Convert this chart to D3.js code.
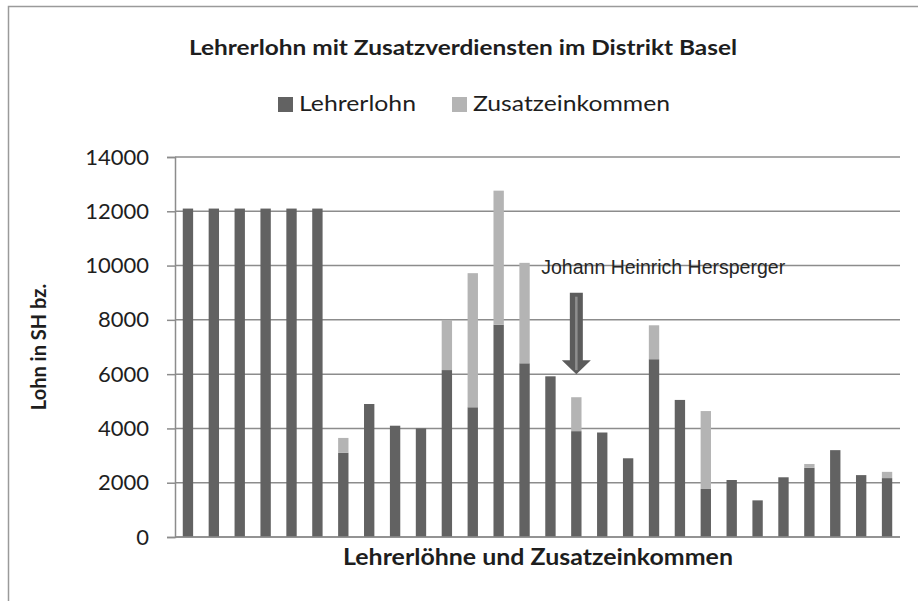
<!DOCTYPE html>
<html>
<head>
<meta charset="utf-8">
<script src="https://cdn.jsdelivr.net/npm/d3@7"></script>
<style>
   body { margin: 0; background: #fff; }
   svg { display: block; }
   text { fill: #1e1e1e; }
</style>
</head>
<body>
<div id="chart"></div>
<script>
// Values
const teachers = d3.range(1, 29).map(i => "L" + i);
const lehrerlohn = [12100, 12100, 12100, 12100, 12100, 12100, 3100, 4900, 4100, 4000,
   6150, 4780, 7820, 6400, 5920, 3900, 3850, 2900, 6550, 5050,
   1770, 2100, 1350, 2200, 2550, 3200, 2280, 2170];
const zusatz = [0, 0, 0, 0, 0, 0, 550, 0, 0, 0,
   1850, 4940, 4940, 3700, 0, 1250, 0, 0, 1250, 0,
   2870, 0, 0, 0, 140, 0, 0, 230];
const seriesNames = ["Lehrerlohn", "Zusatzeinkommen"];
const yTicks = [0, 2000, 4000, 6000, 8000, 10000, 12000, 14000];
const highlight = { teacher: "L16", name: "Johann Heinrich Hersperger", from: 9000, to: 6000, label: 9700 };

const width = 918, height = 601;
const margin = { top: 157, right: 18, bottom: 64, left: 175 };
const colors = { Lehrerlohn: "#626262", Zusatzeinkommen: "#b4b4b4" };
const font = "Lato, 'Open Sans', sans-serif";

const svg = d3.select("#chart").append("svg")
   .attr("width", width)
   .attr("height", height);

// Outer frame (chart area border)
svg.append("path")
   .attr("d", "M8.5," + height + "V6.5H" + width)
   .attr("fill", "none")
   .attr("stroke", "#9a9a9a")
   .attr("stroke-width", 1.5);

const innerW = width - margin.left - margin.right;
const innerH = height - margin.top - margin.bottom;

const x = d3.scaleBand().domain(teachers).range([0, innerW])
   .paddingInner(0.6).paddingOuter(0.3);
const y = d3.scaleLinear().domain([0, 14000]).range([innerH, 0]);

const g = svg.append("g")
   .attr("transform", "translate(" + margin.left + "," + margin.top + ")");

function fit(sel, w) {
   const len = sel.node().getComputedTextLength();
   if (Math.abs(len - w) > 2) sel.attr("textLength", w).attr("lengthAdjust", "spacingAndGlyphs");
   return sel;
}

// Gridlines + left axis
const yAxis = g.append("g")
   .call(d3.axisLeft(y).tickValues(yTicks).tickSize(8).tickPadding(18).tickFormat(d3.format("d")));
yAxis.select(".domain").attr("stroke", "#8c8c8c").attr("stroke-width", 1.5);
yAxis.selectAll(".tick line").attr("stroke", "#8c8c8c").attr("stroke-width", 1.5);
yAxis.selectAll(".tick text")
   .attr("font-family", font)
   .attr("font-size", 22)
   .attr("fill", "#1e1e1e");

g.append("g")
   .selectAll("line")
   .data(yTicks)
   .join("line")
   .attr("x1", 0)
   .attr("x2", innerW)
   .attr("y1", d => y(d))
   .attr("y2", d => y(d))
   .attr("stroke", "#8c8c8c")
   .attr("stroke-width", 1.5);

// Stacked bars
const rows = teachers.map((t, i) => ({ teacher: t, Lehrerlohn: lehrerlohn[i], Zusatzeinkommen: zusatz[i] }));
const stacked = d3.stack().keys(seriesNames)(rows);

g.append("g")
   .selectAll("g")
   .data(stacked)
   .join("g")
   .attr("fill", d => colors[d.key])
   .selectAll("rect")
   .data(d => d.filter(s => s[1] > s[0]))
   .join("rect")
   .attr("x", d => x(d.data.teacher))
   .attr("width", x.bandwidth())
   .attr("y", d => y(d[1]))
   .attr("height", d => y(d[0]) - y(d[1]));

// Bottom axis line drawn over the bars
g.append("line")
   .attr("x1", 0).attr("x2", innerW)
   .attr("y1", innerH).attr("y2", innerH)
   .attr("stroke", "#8c8c8c")
   .attr("stroke-width", 1.5);

// Annotation arrow
const ax = x(highlight.teacher) + x.bandwidth() / 2;
const shaftW = 13, headW = 29, headH = 14;
const yTop = y(highlight.from), yTip = y(highlight.to);
const arrow = g.append("g");
arrow.append("path")
   .attr("d", [
      "M", ax - shaftW / 2, yTop,
      "H", ax + shaftW / 2,
      "V", yTip - headH,
      "H", ax + headW / 2,
      "L", ax, yTip,
      "L", ax - headW / 2, yTip - headH,
      "H", ax - shaftW / 2, "Z"
   ].join(" "))
   .attr("fill", "#5c5c5c");
arrow.append("line")
   .attr("x1", ax).attr("x2", ax)
   .attr("y1", yTop + 4).attr("y2", yTip - 4)
   .attr("stroke", "#8e8e8e")
   .attr("stroke-width", 2.5);

fit(g.append("text")
   .attr("x", x("L15") - 4)
   .attr("y", y(highlight.label))
   .attr("font-family", "'Liberation Sans', Arial, sans-serif")
   .attr("font-size", 19.5)
   .style("fill", "#262626")
   .text(highlight.name), 244);

// Title
fit(svg.append("text")
   .attr("x", 189)
   .attr("y", 55)
   .attr("font-family", font)
   .attr("font-weight", "bold")
   .attr("font-size", 21)
   .text("Lehrerlohn mit Zusatzverdiensten im Distrikt Basel"), 548);

// Legend
const legendItems = [
   { key: "Lehrerlohn", x: 278, w: 117 },
   { key: "Zusatzeinkommen", x: 452, w: 197 }
];
const legend = svg.append("g").selectAll("g")
   .data(legendItems)
   .join("g")
   .attr("transform", d => "translate(" + d.x + ",0)");
legend.append("rect")
   .attr("y", 97)
   .attr("width", 15)
   .attr("height", 15)
   .attr("fill", d => colors[d.key]);
legend.append("text")
   .attr("x", 21)
   .attr("y", 111)
   .attr("font-family", font)
   .attr("font-size", 22)
   .text(d => d.key)
   .each(function (d) { fit(d3.select(this), d.w); });

// Axis titles
fit(svg.append("text")
   .attr("x", 343)
   .attr("y", 565)
   .attr("font-family", font)
   .attr("font-weight", "bold")
   .attr("font-size", 22)
   .text("Lehrerlöhne und Zusatzeinkommen"), 390);

svg.append("text")
   .attr("transform", "translate(46," + (margin.top + innerH / 2) + ") rotate(-90)")
   .attr("text-anchor", "middle")
   .attr("font-family", font)
   .attr("font-weight", "bold")
   .attr("font-size", 20)
   .text("Lohn in SH bz.");
</script>
</body>
</html>
